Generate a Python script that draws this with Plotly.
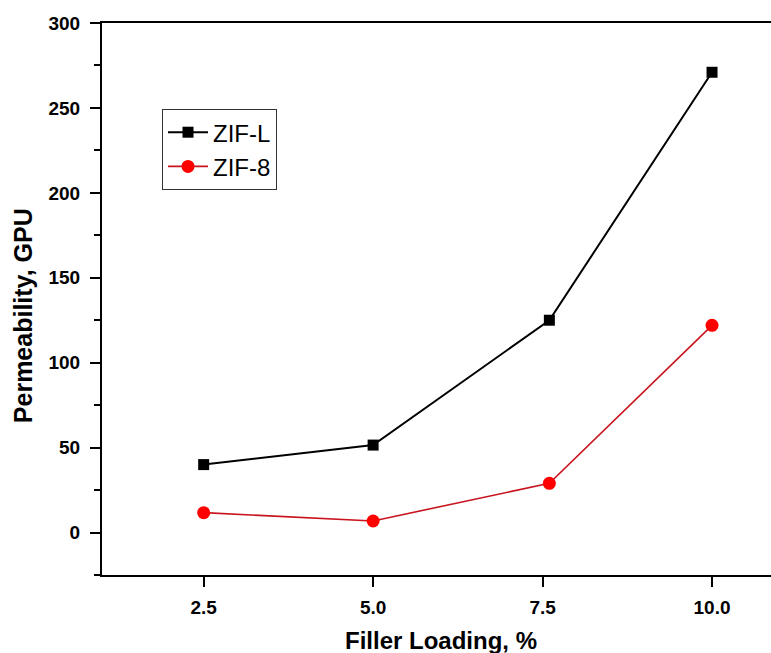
import plotly.graph_objects as go

filler_loading_L = [2.5, 5.0, 7.6, 10.0]
zif_l = [40, 51.5, 125, 271]
filler_loading_8 = [2.5, 5.0, 7.6, 10.0]
zif_8 = [11.7, 6.8, 29, 122]

x_ticks = [2.5, 5.0, 7.5, 10.0]
x_tick_labels = ["2.5", "5.0", "7.5", "10.0"]
y_ticks = [0, 50, 100, 150, 200, 250, 300]

FONT = "Liberation Sans, Arial, sans-serif"

fig = go.Figure()
fig.add_trace(go.Scatter(
    x=filler_loading_L, y=zif_l, name="ZIF-L", mode="lines+markers",
    line=dict(color="black", width=2),
    marker=dict(symbol="square", size=11, color="black"),
))
fig.add_trace(go.Scatter(
    x=filler_loading_8, y=zif_8, name="ZIF-8", mode="lines+markers",
    line=dict(color="#c8141e", width=1.6),
    marker=dict(symbol="circle", size=13, color="#ff0000"),
))

fig.update_layout(
    width=771, height=653,
    margin=dict(l=102, r=0, t=23, b=78, autoexpand=False),
    paper_bgcolor="white", plot_bgcolor="white",
    font=dict(family=FONT, color="black"),
    showlegend=True,
    legend=dict(
        x=0.0897, y=0.844, xanchor="left", yanchor="top",
        bordercolor="#333333", borderwidth=1, bgcolor="white",
        font=dict(family=FONT, size=24, color="black"),
        tracegroupgap=0, itemwidth=40,
    ),
    annotations=[
        dict(text="<b>Filler Loading, %</b>", xref="paper", yref="paper",
             x=0.507, y=-0.118, xanchor="center", yanchor="middle",
             showarrow=False, font=dict(family=FONT, size=24, color="black")),
        dict(text="<b>Permeability, GPU</b>", xref="paper", yref="paper",
             x=-0.118, y=0.469, xanchor="center", yanchor="middle", textangle=-90,
             showarrow=False, font=dict(family=FONT, size=25, color="black")),
    ],
)
fig.update_xaxes(
    range=[1, 10.87], tickvals=x_ticks, ticktext=x_tick_labels,
    showgrid=False, zeroline=False, automargin=False,
    showline=True, linecolor="black", linewidth=2, mirror=True,
    ticks="outside", ticklen=10, tickwidth=2, tickcolor="black",
    ticklabelstandoff=4,
    tickfont=dict(family=FONT, size=19, color="black", weight="bold"),
)
fig.update_yaxes(
    range=[-25, 300], tickvals=y_ticks,
    showgrid=False, zeroline=False, automargin=False,
    showline=True, linecolor="black", linewidth=2, mirror=False,
    ticks="outside", ticklen=10, tickwidth=2, tickcolor="black",
    minor=dict(dtick=25, ticks="outside", ticklen=6, tickwidth=2, tickcolor="black"),
    ticklabelstandoff=6,
    tickfont=dict(family=FONT, size=19, color="black", weight="bold"),
)

fig.write_html(
    "out.html",
    config={"displayModeBar": False},
    post_script="document.body.style.margin='0';document.body.style.padding='0';",
)
